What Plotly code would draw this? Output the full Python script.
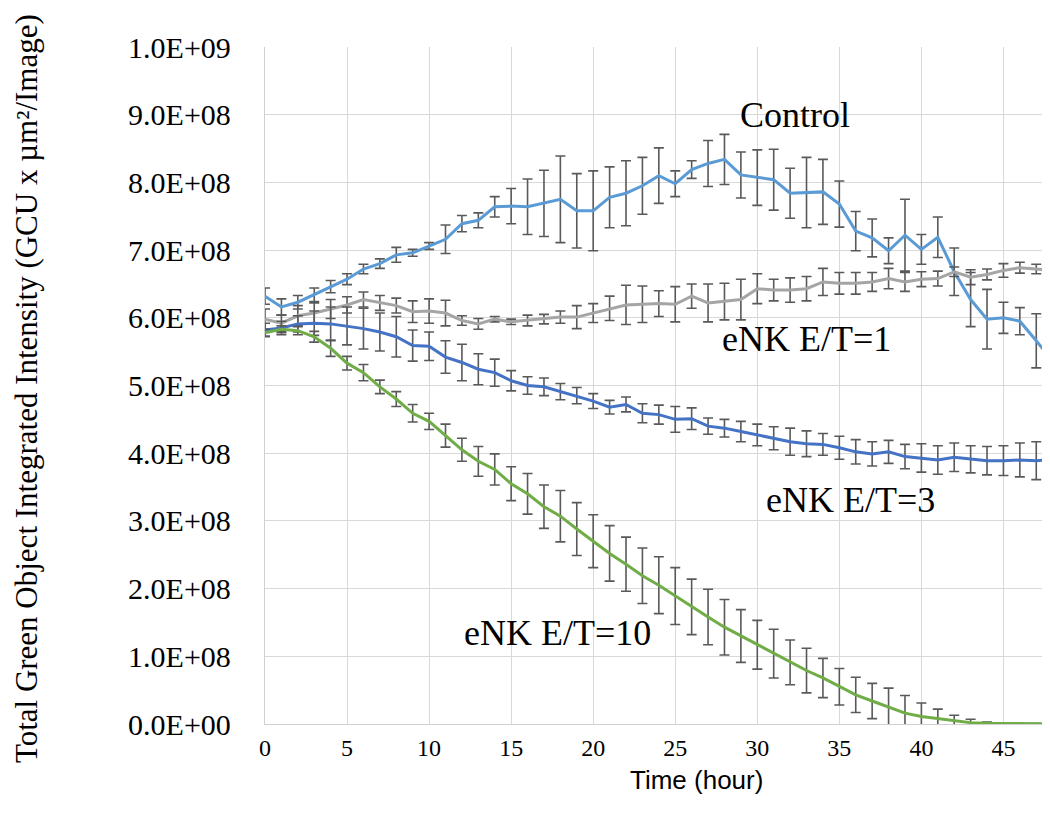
import plotly.graph_objects as go

hours = list(range(0, 49))

# values in units of 1e6 GCU x um^2/Image
control = [632, 616, 623, 634, 646, 657, 672, 680, 693, 696, 706, 716, 739, 744, 764, 765, 764, 769, 775, 758,
           758, 778, 784, 795, 810, 798, 819, 828, 834, 811, 807, 804, 784, 785, 786, 768, 728, 718, 699, 722,
           701, 719, 668, 627, 598, 600, 595, 566, 536]
control_err = [12, 12, 10, 10, 9, 8, 7, 7, 11, 5, 5, 21, 12, 11, 15, 26, 41, 49, 64, 55,
               59, 45, 48, 42, 41, 19, 13, 34, 37, 34, 41, 45, 37, 52, 48, 34, 29, 28, 19, 53,
               22, 30, 35, 40, 44, 23, 20, 40, 42]

et1 = [598, 592, 603, 607, 613, 619, 627, 622, 618, 609, 610, 607, 596, 591, 598, 594, 596, 598, 601, 601,
       607, 614, 619, 620, 621, 620, 632, 622, 624, 627, 643, 641, 641, 643, 653, 651, 651, 653, 658, 653,
       657, 658, 668, 660, 664, 670, 674, 672, 670]
et1_err = [15, 12, 15, 15, 14, 12, 11, 11, 11, 16, 18, 19, 7, 8, 4, 4, 8, 7, 9, 17,
           14, 18, 29, 27, 19, 26, 18, 28, 27, 30, 22, 16, 18, 18, 20, 16, 16, 14, 15, 14,
           11, 11, 7, 11, 8, 10, 8, 7, 7]

et3 = [582, 585, 591, 592, 591, 588, 584, 579, 572, 559, 558, 542, 534, 524, 519, 507, 500, 498, 491, 485,
       477, 468, 472, 459, 457, 450, 451, 440, 437, 432, 427, 422, 417, 414, 413, 408, 402, 399, 402, 395,
       393, 390, 394, 391, 389, 389, 390, 389, 391]
et3_err = [10, 10, 12, 18, 25, 28, 30, 28, 30, 23, 21, 24, 27, 23, 20, 15, 13, 13, 12, 12,
           11, 10, 11, 14, 14, 19, 16, 12, 13, 15, 16, 17, 20, 19, 16, 17, 18, 18, 17, 18,
           21, 21, 21, 20, 21, 22, 25, 28, 28]

et10 = [578, 583, 581, 572, 555, 533, 519, 498, 480, 459, 447, 426, 405, 388, 376, 355, 340, 321, 307, 288,
        270, 252, 236, 219, 205, 189, 173, 158, 143, 130, 117, 104, 91, 79, 68, 55, 43, 34, 25, 16,
        11, 8, 5, 2, 1, 0.5, 0.3, 0.2, 0.1]
et10_err = [5, 5, 6, 8, 12, 10, 12, 10, 11, 13, 12, 17, 17, 22, 23, 25, 30, 32, 38, 39,
            39, 41, 40, 41, 42, 42, 41, 41, 41, 39, 36, 36, 33, 33, 29, 27, 26, 26, 28, 26,
            20, 14, 8, 5, 2, 1, 0.5, 0.3, 0.2]

series_names = ["Control", "eNK E/T=1", "eNK E/T=3", "eNK E/T=10"]
series_vals = [control, et1, et3, et10]
series_errs = [control_err, et1_err, et3_err, et10_err]
series_colors = ["#5B9BD5", "#A5A5A5", "#4472C4", "#70AD47"]

y_ticks = [i * 1e8 for i in range(11)]
y_ticktext = ["0.0E+00", "1.0E+08", "2.0E+08", "3.0E+08", "4.0E+08", "5.0E+08",
              "6.0E+08", "7.0E+08", "8.0E+08", "9.0E+08", "1.0E+09"]
x_ticks = [0, 5, 10, 15, 20, 25, 30, 35, 40, 45]

# label texts and their anchor points (hour, value in 1e6)
label_texts = ["Control", "eNK E/T=1", "eNK E/T=3", "eNK E/T=10"]
label_x = [32.3, 33.0, 35.65, 17.8]
label_y = [899, 568, 331, 134.5]

fig = go.Figure()
for name, vals, errs, col in zip(series_names, series_vals, series_errs, series_colors):
    fig.add_trace(go.Scatter(
        x=hours, y=[v * 1e6 for v in vals], name=name, mode="lines",
        line=dict(color=col, width=3),
        error_y=dict(type="data", array=[e * 1e6 for e in errs], visible=True,
                     color="#595959", thickness=1.6, width=5),
    ))

serif = "Liberation Serif, Times New Roman, serif"
for t, lx, ly in zip(label_texts, label_x, label_y):
    fig.add_annotation(x=lx, y=ly * 1e6, xref="x", yref="y", text=t, showarrow=False,
                       font=dict(family=serif, size=36, color="black"),
                       xanchor="center", yanchor="middle")

# plot area: 777 px wide (257..1034 in figure), 677 px tall (39..716)
fig.add_annotation(x=-0.306, y=0.495, xref="paper", yref="paper",
                   text="Total Green Object Integrated Intensity (GCU x µm²/Image)",
                   textangle=-90, showarrow=False,
                   font=dict(family=serif, size=31, color="black"),
                   xanchor="center", yanchor="middle")
fig.add_annotation(x=0.555, y=-0.083, xref="paper", yref="paper",
                   text="Time (hour)", showarrow=False,
                   font=dict(family="Liberation Sans Narrow, Liberation Sans, Arial, sans-serif", size=26, color="black"),
                   xanchor="center", yanchor="middle")

fig.update_layout(
    width=1034, height=798,
    margin=dict(l=257, r=0, t=39, b=82),
    paper_bgcolor="white", plot_bgcolor="white",
    showlegend=False,
)
fig.update_xaxes(
    range=[0, 47.35], tickvals=x_ticks, showgrid=True, gridcolor="#d9d9d9", gridwidth=1.3,
    showline=True, linecolor="#d0d0d0", linewidth=1.3, zeroline=False, ticks="",
    tickfont=dict(family=serif, size=24, color="black"), ticklabelstandoff=2,
)
fig.update_yaxes(
    range=[0, 1e9], tickvals=y_ticks, ticktext=y_ticktext, showgrid=True, gridcolor="#d9d9d9", gridwidth=1.3,
    showline=True, linecolor="#d0d0d0", linewidth=1.3, zeroline=False, ticks="",
    tickfont=dict(family=serif, size=30, color="black"), ticklabelstandoff=27,
)

fig.write_html("out.html")
